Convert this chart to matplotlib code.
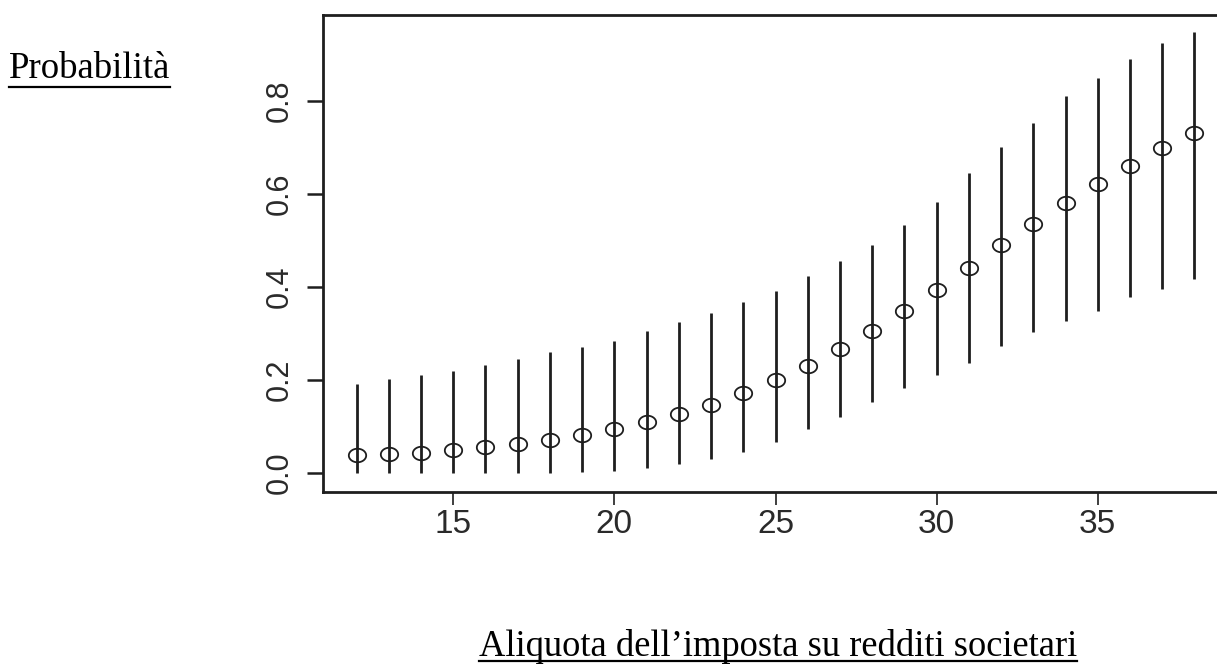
import matplotlib
matplotlib.use("Agg")
import matplotlib.pyplot as plt
from matplotlib.path import Path
from matplotlib.lines import Line2D
import numpy as np

# ---- data ----
aliquota = [12, 13, 14, 15, 16, 17, 18, 19, 20, 21, 22, 23, 24, 25,
            26, 27, 28, 29, 30, 31, 32, 33, 34, 35, 36, 37, 38]
probabilita = [0.037, 0.040, 0.043, 0.048, 0.055, 0.062, 0.071, 0.081, 0.093,
               0.108, 0.126, 0.146, 0.171, 0.199, 0.230, 0.266, 0.305, 0.348,
               0.393, 0.440, 0.489, 0.534, 0.580, 0.621, 0.660, 0.698, 0.730]
inferiore = [0.0, 0.0, 0.0, 0.0, 0.0, 0.0, 0.0, 0.001, 0.004, 0.009, 0.018,
             0.029, 0.045, 0.067, 0.094, 0.120, 0.151, 0.183, 0.209, 0.235,
             0.273, 0.302, 0.327, 0.348, 0.377, 0.395, 0.417]
superiore = [0.191, 0.201, 0.210, 0.219, 0.232, 0.245, 0.259, 0.271, 0.284,
             0.305, 0.323, 0.343, 0.366, 0.391, 0.422, 0.456, 0.490, 0.533,
             0.582, 0.644, 0.701, 0.752, 0.809, 0.848, 0.889, 0.923, 0.948]
x_ticks = [15, 20, 25, 30, 35]
y_ticks = [0.0, 0.2, 0.4, 0.6, 0.8]
y_tick_labels = ["0.0", "0.2", "0.4", "0.6", "0.8"]
y_label = "Probabilità"
x_label = "Aliquota dell\u2019imposta su redditi societari"

W, H = 1217, 664
fig = plt.figure(figsize=(W / 100, H / 100), dpi=100)
fig.patch.set_facecolor("white")

L, R, T, B = 323, 1228, 15, 491.7
ax = fig.add_axes([L / W, (H - B) / H, (R - L) / W, (B - T) / H])
ax.set_xlim(10.96, 39.04)
ax.set_ylim(-0.0409, 0.984)

ink = "#1e1e1e"
ax.vlines(aliquota, inferiore, superiore, color=ink, linewidth=2.0, zorder=2)

# slightly wide ellipse marker (as in the reference)
t = np.linspace(0, 2 * np.pi, 60)
ell = Path(np.column_stack([np.cos(t), 0.78 * np.sin(t)]), closed=True)
ax.plot(aliquota, probabilita, linestyle="none", marker=ell, markersize=12.5,
        markerfacecolor="none", markeredgecolor=ink, markeredgewidth=1.3, zorder=3)

for side in ["top", "left", "bottom", "right"]:
    ax.spines[side].set_linewidth(2.0)
    ax.spines[side].set_color(ink)

sans = ["Liberation Sans", "DejaVu Sans"]
ax.set_xticks(x_ticks)
ax.set_xticklabels([str(v) for v in x_ticks], family=sans, size=24, color="#2a2a2a")
ax.set_yticks(y_ticks)
ax.set_yticklabels(y_tick_labels, family=sans, size=22, color="#2a2a2a",
                   rotation=90, va="center")
ax.tick_params(axis="x", length=9.5, width=1.2, pad=3, color=ink)
ax.tick_params(axis="y", length=11.5, width=1.8, pad=9, color=ink)

# axis titles (underlined, serif)
serif = ["Liberation Serif", "DejaVu Serif"]
t1 = fig.text(9 / W, (H - 78) / H, y_label, family=serif, size=26.5,
              ha="left", va="baseline", color="black")
t2 = fig.text(778 / W, (H - 656) / H, x_label, family=serif, size=26.3,
              ha="center", va="baseline", color="black")

fig.canvas.draw()
rend = fig.canvas.get_renderer()
for txt, uy in [(t1, 87), (t2, 661)]:
    bb = txt.get_window_extent(renderer=rend)
    y = (H - uy) / H
    fig.add_artist(Line2D([bb.x0 / W, bb.x1 / W], [y, y], transform=fig.transFigure,
                          color="black", linewidth=1.6))

fig.savefig("out.png", dpi=100)
